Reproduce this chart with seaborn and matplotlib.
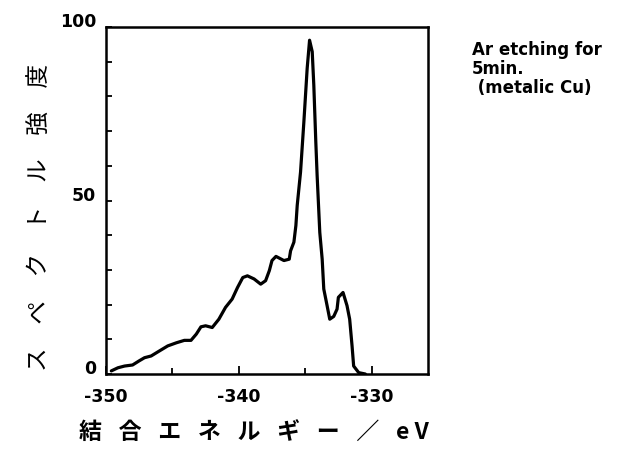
import matplotlib
matplotlib.use("Agg")
import matplotlib.pyplot as plt
from matplotlib.ticker import MultipleLocator
from matplotlib.transforms import ScaledTranslation
import pandas as pd
import seaborn as sns

# Cu 2p3/2 region after 5 min Ar etching (binding energy in eV, intensity in %)
binding_energy = [
    -349.6, -349.1, -348.6, -348.0, -347.5, -347.1, -346.6, -346.0, -345.35,
    -344.7, -344.1, -343.6, -343.2, -342.85, -342.5, -342.0, -341.5, -341.0,
    -340.5, -340.1, -339.7, -339.35, -338.85, -338.35, -337.98, -337.7,
    -337.5, -337.2, -336.6, -336.2, -336.1, -335.85, -335.7, -335.6, -335.35,
    -335.1, -334.85, -334.67, -334.47, -334.35, -334.2, -334.1, -333.9,
    -333.72, -333.6, -333.35, -333.15, -332.85, -332.6, -332.5, -332.15,
    -331.85, -331.65, -331.47, -331.35, -330.97, -330.47,
]
intensity = [
    0.9, 1.8, 2.3, 2.6, 3.8, 4.7, 5.2, 6.6, 8.1,
    9.0, 9.7, 9.7, 11.5, 13.6, 13.9, 13.4, 15.8, 19.2,
    21.6, 24.9, 27.8, 28.3, 27.4, 25.9, 26.9, 29.8,
    32.7, 33.9, 32.7, 33.1, 35.5, 38.0, 42.8, 48.6, 58.2,
    72.6, 88.1, 96.2, 92.9, 83.2, 66.9, 57.2, 40.8,
    33.1, 24.5, 19.7, 15.8, 16.6, 18.7, 22.1, 23.5,
    19.7, 15.8, 8.1, 2.3, 0.4, 0.0,
]

x_ticks = [-350, -340, -330]
x_tick_labels = ["-350", "-340", "-330"]
y_ticks = [0, 50, 100]
y_tick_labels = ["0", "50", "100"]

x_label = "結\u2002 合\u2002 エ\u2002 ネ\u2002 ル\u2002 ギ\u2002 ー\u2002 ／\u2002 e V"
y_label = "ス\u3000ペ\u3000ク\u3000ト\u3000ル\u3000強\u3000度"
note = "Ar etching for\n5min.\n (metalic Cu)"

sns.set_style("ticks")
plt.rcParams["font.family"] = ["DejaVu Sans"]
plt.rcParams["text.color"] = "black"
plt.rcParams["axes.labelcolor"] = "black"
plt.rcParams["xtick.color"] = "black"
plt.rcParams["ytick.color"] = "black"

df = pd.DataFrame({"energy": binding_energy, "intensity": intensity})

fig = plt.figure(figsize=(6.17, 4.49), dpi=100)
ax = fig.add_axes([0.1718, 0.167, 0.5219, 0.7728])

sns.lineplot(data=df, x="energy", y="intensity", ax=ax, color="black",
             linewidth=2.3, estimator=None, sort=False)

ax.set_xlim(-350, -325.75)
ax.set_ylim(0, 100)

ax.set_xticks(x_ticks)
ax.set_xticklabels(x_tick_labels, fontsize=12.5, fontweight="bold")
ax.set_yticks(y_ticks)
ax.set_yticklabels(y_tick_labels, fontsize=12.5, fontweight="bold")
ax.xaxis.set_minor_locator(MultipleLocator(5))
ax.yaxis.set_minor_locator(MultipleLocator(10))

ax.tick_params(axis="x", which="major", direction="in", length=6, width=1.3,
               pad=10, top=False)
ax.tick_params(axis="x", which="minor", direction="in", length=4, width=1.3,
               top=False)
ax.tick_params(axis="y", which="both", direction="in", length=4, width=1.3,
               pad=7, right=False)

# y tick labels sit a little above their ticks
lift = ScaledTranslation(0, 5 / 72, fig.dpi_scale_trans)
for lbl in ax.get_yticklabels():
    lbl.set_transform(lbl.get_transform() + lift)

for side in ax.spines.values():
    side.set_visible(True)
    side.set_linewidth(1.8)
    side.set_color("black")

jp = ["Noto Sans CJK JP", "DejaVu Sans"]
ax.set_xlabel(x_label, fontsize=16.5, family=jp, fontweight="bold")
ax.xaxis.set_label_coords(0.46, -0.138)
ax.set_ylabel(y_label, fontsize=17, family=jp)
ax.yaxis.label.set_va("center")
ax.yaxis.set_label_coords(-0.205, 0.45)

fig.text(0.765, 0.908, note, fontsize=12, fontweight="bold", va="top",
         ha="left", linespacing=1.05)

fig.savefig("out.png", dpi=100)
